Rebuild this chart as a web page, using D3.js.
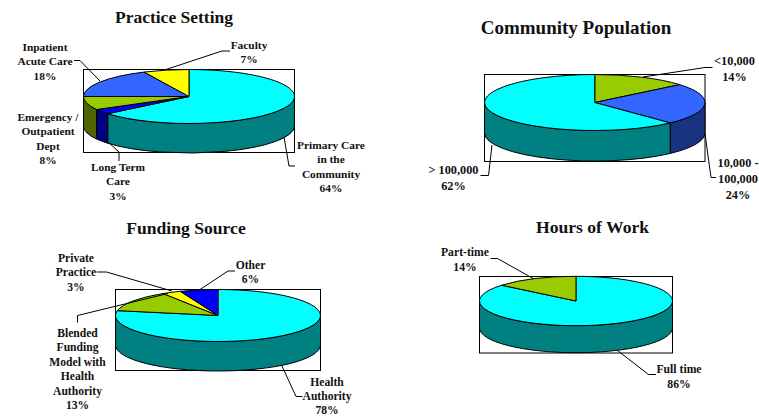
<!DOCTYPE html>
<html>
<head>
<meta charset="utf-8">
<script src="https://cdn.jsdelivr.net/npm/d3@7/dist/d3.min.js"></script>
<style>
  html, body { margin: 0; padding: 0; background: #fff; overflow: hidden; }
  svg { display: block; }
  text { font-family: "Liberation Serif", serif; font-weight: bold; fill: #111; text-anchor: middle; }
</style>
</head>
<body>
<div class="canvas"></div>
<script>
// values, clockwise from 12 o'clock
const settingNames = [['Primary Care', 'in the', 'Community'], ['Long Term', 'Care'], ['Emergency /', 'Outpatient', 'Dept'], ['Inpatient', 'Acute Care'], ['Faculty']]
const settingValues = [64, 3, 8, 18, 7]
const populationNames = [['<10,000'], ['10,000 -', '100,000'], ['> 100,000']]
const populationValues = [14, 24, 62]
const fundingNames = [['Health', 'Authority'], ['Blended', 'Funding', 'Model with', 'Health', 'Authority'], ['Private', 'Practice'], ['Other']]
const fundingValues = [78, 13, 3, 6]
const hoursNames = [['Full time'], ['Part-time']]
const hoursValues = [86, 14]

const cyan = ['#00ffff', '#008080']
const blue = ['#0000ff', '#000080']
const green = ['#99cc00', '#4d6600']
const slate = ['#3366ff', '#1a3380']
const yellow = ['#ffff00', '#808000']

const charts = [
  {
    title: 'Practice Setting', titleAt: [174, 22.5], titleSize: 17.5, names: settingNames, values: settingValues,
    colors: [cyan, blue, green, slate, yellow],
    box: [83.5, 69.5, 294.5, 152.5], cy: 96.5, ry: 27, depth: 29.5, size: 11.4,
    labels: [[331, 148.5], [118, 170.5], [48, 120.5], [45, 50.5], [249, 48.5]], lineStep: 14.5,
    leaders: [
      [[295, 166], [289, 166], [284, 137]],
      [[119, 161], [119, 152], [108.5, 142.5]],
      null,
      [[74, 60.5], [80, 60.5], [100, 81]],
      [[230, 51], [222, 51], [166, 69.5]]
    ]
  },
  {
    title: 'Community Population', titleAt: [576, 33.5], titleSize: 19, names: populationNames, values: populationValues,
    colors: [green, slate, cyan],
    box: [484.5, 74.5, 705, 161.5], cy: 102.5, ry: 28, depth: 30.5, size: 12.3,
    labels: [[734.5, 65], [738, 167], [453.5, 173.5]], lineStep: 16,
    leaders: [
      [[712.5, 67.5], [705, 67.5], [643, 77]],
      [[716, 177.5], [711, 177.5], [705, 134]],
      [[480.5, 175.5], [488.5, 175.5], [492, 145]]
    ]
  },
  {
    title: 'Funding Source', titleAt: [186, 234], titleSize: 17.6, names: fundingNames, values: fundingValues,
    colors: [cyan, green, yellow, blue],
    box: [115.5, 289.5, 320.5, 370.5], cy: 315.5, ry: 26, depth: 29.5, size: 11.6,
    labels: [[327, 385.5], [77.5, 337], [76, 262], [250.5, 269]], lineStep: 14.4,
    leaders: [
      [[302.5, 396.5], [296, 396.5], [281.5, 365]],
      [[77.5, 322.5], [77.5, 315.5], [168, 293.5]],
      [[96.5, 272], [106.5, 272], [172, 291]],
      [[235, 271], [228, 271], [200, 289.5]]
    ]
  },
  {
    title: 'Hours of Work', titleAt: [592.5, 233], titleSize: 17.6, names: hoursNames, values: hoursValues,
    colors: [cyan, green],
    box: [479.5, 276.5, 672.5, 353], cy: 301, ry: 24.7, depth: 27, size: 11.7,
    labels: [[679, 373], [465, 256]], lineStep: 15,
    leaders: [
      [[656, 374.5], [648.5, 374.5], [617.5, 350.5]],
      [[490.5, 258.5], [497.5, 258.5], [534, 279]]
    ]
  }
]

const svg = d3.select('.canvas')
  .append('svg')
  .attr('width', 759)
  .attr('height', 417)

const pie = d3.pie().sort(null).startAngle(0).endAngle(2 * Math.PI)
const leaderLine = d3.line()

function drawChart(chart) {
  const [x0, y0, x1] = chart.box
  const g = svg.append('g')
  const rx = (x1 - x0) / 2
  const scaleX = d3.scaleLinear().domain([-1, 1]).range([x0, x1])
  const scaleY = d3.scaleLinear().domain([-1, 1]).range([chart.cy + chart.ry, chart.cy - chart.ry])
  const px = angle => scaleX(Math.sin(angle))
  const py = angle => scaleY(Math.cos(angle))
  const slices = pie(chart.values)

  g.append('rect')
    .attr('x', x0)
    .attr('y', y0)
    .attr('width', x1 - x0)
    .attr('height', chart.box[3] - y0)
    .attr('fill', 'none')
    .attr('stroke', '#000')

  // only the front half of the rim can be seen
  const sidePath = d => {
    const a = Math.max(d.startAngle, Math.PI / 2)
    const b = Math.min(d.endAngle, 3 * Math.PI / 2)
    return `M${px(a)},${py(a)}A${rx},${chart.ry} 0 0 1 ${px(b)},${py(b)}` +
      `V${py(b) + chart.depth}A${rx},${chart.ry} 0 0 0 ${px(a)},${py(a) + chart.depth}Z`
  }
  g.selectAll('path.side')
    .data(slices.filter(d => d.endAngle > Math.PI / 2 && d.startAngle < 3 * Math.PI / 2))
    .enter().append('path')
    .attr('class', 'side')
    .attr('d', sidePath)
    .attr('fill', d => chart.colors[d.index][1])
    .attr('stroke', '#000')

  const topPath = d => {
    const large = d.endAngle - d.startAngle > Math.PI ? 1 : 0
    return `M${scaleX(0)},${chart.cy}L${px(d.startAngle)},${py(d.startAngle)}` +
      `A${rx},${chart.ry} 0 ${large} 1 ${px(d.endAngle)},${py(d.endAngle)}Z`
  }
  g.selectAll('path.top')
    .data(slices)
    .enter().append('path')
    .attr('class', 'top')
    .attr('d', topPath)
    .attr('fill', d => chart.colors[d.index][0])
    .attr('stroke', '#000')

  g.selectAll('path.leader')
    .data(chart.leaders.filter(d => d))
    .enter().append('path')
    .attr('class', 'leader')
    .attr('d', leaderLine)
    .attr('fill', 'none')
    .attr('stroke', '#000')

  g.append('text')
    .attr('x', chart.titleAt[0])
    .attr('y', chart.titleAt[1])
    .attr('font-size', chart.titleSize)
    .text(chart.title)

  chart.names.forEach((name, i) => {
    const lines = [...name, `${chart.values[i]}%`]
    const label = g.append('text')
      .attr('font-size', chart.size)
    lines.forEach((line, n) =>
      label.append('tspan')
        .attr('x', chart.labels[i][0])
        .attr('y', chart.labels[i][1] + n * chart.lineStep)
        .text(line))
  })
}

charts.forEach(drawChart)
</script>
</body>
</html>
